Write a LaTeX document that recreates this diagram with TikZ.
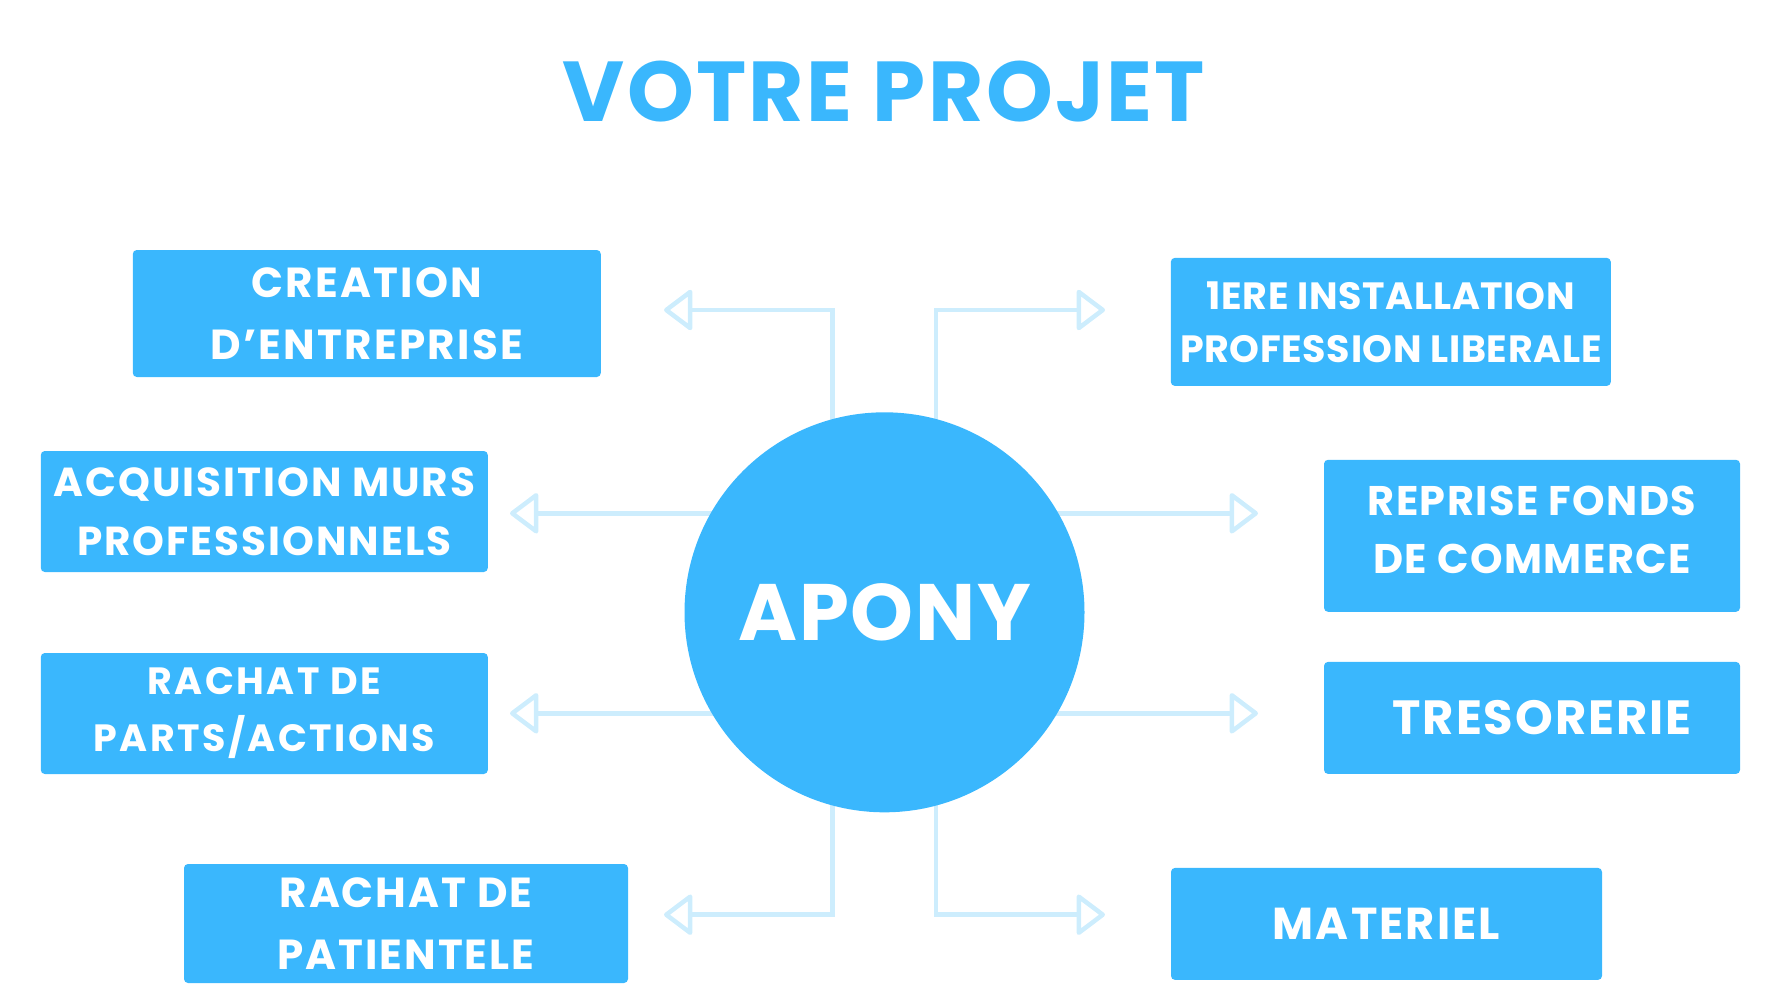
\documentclass[tikz,border=0pt]{standalone}
\usepackage{fontspec}
\setmainfont{Poppins}
\usetikzlibrary{arrows.meta,backgrounds}
\definecolor{blu}{HTML}{3AB7FD}
\definecolor{lblu}{HTML}{CDEDFD}
\begin{document}
\begin{tikzpicture}[x=1pt,y=-1pt,
  box/.style={fill=blu, rounded corners=4pt, inner sep=0pt, text=white, align=center},
  conn/.style={draw=lblu, line width=4.5pt, -{Triangle[open, length=30pt, width=44pt, line join=round, line cap=round]}},
  fs/.style n args={3}{font=\bfseries\fontsize{#1}{#2}\selectfont\addfontfeature{LetterSpace=#3}}]
\useasboundingbox (0,0) rectangle (1766,998);
% title
\node[text=blu, anchor=base, fs={85}{100}{2.7}] (title) at (884,121.7) {VOTRE PROJET};
% centre
\node[circle, fill=blu, minimum size=400pt, inner sep=0pt] (apony) at (884.5,612.3) {};
\node[text=white, anchor=base, fs={80}{90}{2.3}] (aponyt) at (884.7,640) {APONY};
% boxes
\node[box, minimum width=468pt, minimum height=127pt, fs={42}{62}{5.4}] (b1) at (366.8,313.5) {CREATION\\D’ENTREPRISE};
\node[box, minimum width=447pt, minimum height=121pt, fs={40.5}{58.7}{4.9}] (b2) at (264.3,511.5) {ACQUISITION MURS\\PROFESSIONNELS};
\node[box, minimum width=447pt, minimum height=121pt, fs={38}{57}{6.5}] (b3) at (264.3,713.5) {RACHAT DE\\PARTS/ACTIONS};
\node[box, minimum width=444pt, minimum height=119pt, fs={42}{62}{4.6}] (b4) at (406,923.5) {RACHAT DE\\PATIENTELE};
\node[box, minimum width=440pt, minimum height=128pt, fs={38}{53}{1.7}] (b5) at (1390.8,321.9) {1ERE INSTALLATION\\PROFESSION LIBERALE};
\node[box, minimum width=416pt, minimum height=152pt, text depth=12pt, fs={41.4}{58.3}{3.5}] (b6) at (1532,535.8) {REPRISE FONDS\\DE COMMERCE};
\node[box, minimum width=416pt, minimum height=112pt, fs={48}{58}{4}] (b7) at (1532,717.9) {\hspace*{20pt}TRESORERIE};
\node[box, minimum width=431pt, minimum height=112pt, fs={44.7}{58}{4.8}] (b8) at (1386.5,923.9) {MATERIEL};
% arrow ends
\coordinate (e1) at (664,310);
\coordinate (e2) at (1105,310);
\coordinate (e3) at (510,513.3);
\coordinate (e4) at (510,713.3);
\coordinate (e5) at (1258,513.3);
\coordinate (e6) at (1258,713.3);
\coordinate (e7) at (664,914.7);
\coordinate (e8) at (1105,914.7);
\begin{scope}[on background layer]
\draw[conn] ([xshift=-51.8pt,yshift=150pt]apony.center) |- (e1);
\draw[conn] ([xshift=51.5pt,yshift=150pt]apony.center) |- (e2);
\draw[conn] ([xshift=-100pt,yshift=99pt]apony.center) -- (e3);
\draw[conn] ([xshift=-100pt,yshift=-101pt]apony.center) -- (e4);
\draw[conn] ([xshift=100pt,yshift=99pt]apony.center) -- (e5);
\draw[conn] ([xshift=100pt,yshift=-101pt]apony.center) -- (e6);
\draw[conn] ([xshift=-51.8pt,yshift=-150pt]apony.center) |- (e7);
\draw[conn] ([xshift=51.5pt,yshift=-150pt]apony.center) |- (e8);
\end{scope}
\end{tikzpicture}
\end{document}
